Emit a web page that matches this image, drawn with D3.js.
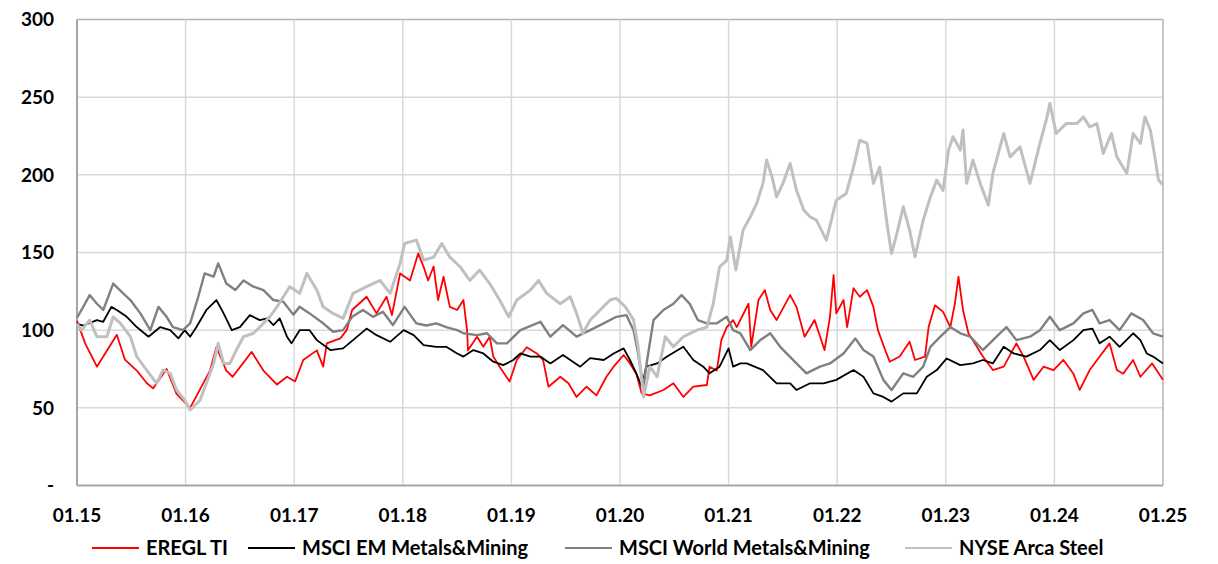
<!DOCTYPE html>
<html>
<head>
<meta charset="utf-8">
<script src="https://cdn.jsdelivr.net/npm/d3@7"></script>
<style>
  body { margin: 0; background: #fff; }
  text { font-family: Lato, "Open Sans", sans-serif; font-weight: 700; fill: #000; }
</style>
</head>
<body>
<div id="chart"></div>
<script>
// months since 01.2015, index value
const eregl = [[0,106],[0.9,91.5],[2.2,76.5],[4.4,97],[5.3,81],[6.6,74],[7.7,66],[8.4,62.5],[9.9,75],[11.0,59],[12.5,50],
  [14.7,74],[15.4,89],[16.5,74],[17.2,70],[19.3,86],[20.6,74],[22.1,65],[23.2,70],[24.1,67],[25.0,80.8],[26.5,87],[27.2,76.5],
  [27.6,91.5],[29.1,94.7],[29.8,100],[30.4,113],[32.0,121.5],[33.1,110.8],[34.2,121.5],[34.8,109.7],[35.7,136.5],[36.8,132],
  [37.7,149.4],[38.3,140.8],[38.8,132],[39.4,141],[39.9,119.4],[40.5,134.4],[41.2,115],[42.0,113],[42.7,119.4],[43.1,100],
  [43.2,87],[44.2,95.8],[44.9,89.3],[45.6,95.8],[46.0,83],[46.7,76.5],[47.8,67],[48.6,80.8],[49.7,89],[50.8,85],[51.5,80.8],
  [52.1,63.6],[53.4,70],[54.3,65.8],[55.2,57],[56.3,63.6],[57.4,58],[58.5,70],[59.3,76.5],[60.4,84],[61.1,78.6],[61.8,72],
  [62.4,59.3],[63.3,58],[64.8,61.5],[65.9,65.8],[67.0,57],[68.1,63.6],[69.6,64.7],[69.9,76.5],[70.7,74],[71.2,93.6],[71.8,102],
  [72.5,106.5],[72.9,102],[74.2,117],[74.5,89.3],[75.3,119.4],[76.0,125.8],[76.6,113],[77.3,106.5],[78.8,122.6],[79.5,115],
  [80.4,95.8],[81.5,106.5],[82.6,87.2],[83.2,108.6],[83.6,135.5],[83.9,110.8],[84.7,119.4],[85.1,102],[85.8,127],[86.5,121.5],
  [87.3,125.8],[88.0,115],[88.5,100],[89.3,87.2],[89.8,79.7],[90.9,83],[92.0,92.5],[92.6,80.8],[93.7,83],[94.1,102],[94.8,116],
  [95.7,111.8],[96.5,102],[97.0,117],[97.4,134.4],[97.9,113],[98.5,98],[99.2,91.5],[100.1,83],[101.2,74.3],[102.4,76.5],
  [103.8,91.5],[104.6,83],[105.7,68],[106.8,76.5],[107.9,74.3],[109.0,80.8],[110.1,72],[110.8,61.5],[111.9,74.3],[113.0,83],
  [114.1,91.5],[114.9,74.3],[115.6,72],[116.7,80.8],[117.5,70],[118.8,78.6],[120,68]];

const msciEm = [[0,104],[0.7,103],[2.2,106.5],[2.9,105.4],[3.8,115],[4.4,113],[5.5,108.6],[6.6,102],[7.9,95.8],[9.2,102],
  [10.3,100],[11.2,94.7],[11.9,100],[12.5,95.8],[13.2,102],[14.3,113],[15.4,119.4],[16.2,110.8],[17.1,100],[18.0,102],
  [19.1,109.7],[20.2,106.5],[21.0,107.6],[21.7,103.3],[22.4,107.6],[23.2,95.8],[23.7,91.5],[24.6,100],[25.7,100],[26.5,93.6],
  [28.0,87.2],[29.4,88.3],[30.5,93.6],[32.0,101],[33.1,96.8],[34.6,92.5],[36.1,100],[37.2,96.8],[38.3,90.4],[39.7,89.3],
  [40.8,89.3],[42.0,85],[42.7,83],[43.8,87.2],[44.9,85],[46.0,79.7],[47.1,77.5],[48.2,80.8],[49.0,85],[50.1,83],[51.2,83],
  [52.3,78.6],[53.7,84],[55.6,76.5],[56.7,82],[58.2,80.8],[59.3,85],[60.4,88.3],[61.1,80.8],[61.8,72.2],[62.4,63.6],[62.9,76.5],
  [64.1,78.6],[65.2,83],[67.0,89.3],[68.1,80.8],[69.2,76.5],[69.9,72.2],[71.0,76.5],[72.0,88.3],[72.5,76.5],[73.3,78.6],
  [74.0,78.6],[75.8,74.3],[77.3,65.8],[78.8,65.8],[79.5,61.5],[81.0,65.8],[82.5,65.8],[83.9,68],[85.8,74.3],[86.9,70],[88.0,59.3],
  [89.1,57],[90.0,54],[91.3,59.3],[92.8,59.3],[93.9,70],[95.0,74.3],[96.1,81.8],[97.6,77.5],[99.0,78.6],[100.1,80.8],[101.2,78.6],
  [102.4,89.3],[103.5,85],[104.9,83],[106.4,87.2],[107.5,93.6],[108.6,87.2],[110.1,93.6],[111.2,100],[112.2,101],[113.0,91.5],
  [114.1,95.8],[115.2,89.3],[116.7,98],[117.5,93.6],[118.2,85],[118.9,83],[120,78.6]];

const msciWorld = [[0,108],[0.5,113],[1.4,122.6],[2.2,117],[2.9,113],[4.0,130],[5.1,123.7],[5.9,119.4],[7.0,110.8],[8.1,100],
  [9.0,115],[9.9,108.6],[10.6,102],[11.7,100],[12.5,104.4],[13.4,121.5],[14.1,136.5],[15.1,134.4],[15.6,143],[16.5,130],
  [17.5,125.8],[18.4,132],[19.5,128],[20.6,125.8],[21.7,119.4],[22.8,118.3],[23.9,110],[24.6,115],[25.7,110.8],[27.2,104.4],
  [28.3,99],[29.4,100],[30.4,108.6],[31.6,113],[32.7,108.6],[33.8,111.8],[34.9,103.3],[36.2,115],[37.5,104.4],[38.6,103],
  [39.7,104.4],[40.8,102],[42.0,100],[42.7,98],[44.2,96.8],[45.3,98],[46.4,91.5],[47.5,91.5],[49.0,100],[51.2,105.4],[52.3,95.8],
  [53.7,103.3],[55.2,95.8],[56.7,100],[58.2,104.4],[59.6,108.6],[60.7,109.7],[61.5,100],[62.0,85],[62.4,70],[62.6,63.6],
  [63.0,80.8],[63.7,106.5],[64.8,113],[65.9,117],[66.8,122.6],[67.7,117],[68.6,106.5],[69.6,104.4],[70.7,104.4],[71.8,108.6],
  [72.5,100],[73.3,98],[74.4,87.2],[75.5,93.6],[76.6,98],[77.7,89.3],[79.5,78.6],[80.6,72.2],[82.1,76.5],[83.2,78.6],[84.7,85],
  [86.0,94.7],[86.9,87.2],[88.0,83],[89.1,68],[90.0,61.5],[91.3,72.2],[92.4,70],[93.5,76.5],[94.3,89.3],[95.4,95.8],[96.5,102],
  [97.6,98],[98.7,95.8],[100.1,87.2],[101.6,95.8],[102.7,102],[103.8,93.6],[105.3,95.8],[106.4,100],[107.5,108.6],[108.6,100],
  [110.1,104.4],[111.2,110.8],[112.2,113],[113.0,104.4],[114.1,106.5],[115.2,100],[116.5,110.8],[117.8,106.5],[118.9,98],[120,95.8]];

const nyseSteel = [[0,104],[0.5,100],[1.4,106.5],[2.2,95.8],[3.3,95.8],[4.0,108.6],[4.8,104.4],[5.9,95.8],[6.6,83],[7.7,74.3],
  [8.8,65.8],[9.5,74.3],[10.3,72.2],[11.0,61.5],[11.9,55],[12.5,48.6],[13.6,55],[14.3,65.8],[15.1,78.6],[15.6,91.5],[16.2,78.6],
  [16.9,78.6],[17.6,87.2],[18.4,95.8],[19.5,98],[20.6,104.4],[21.3,108.6],[22.1,115],[22.8,121.5],[23.5,128],[24.6,123.7],
  [25.4,136.5],[26.5,125.8],[27.2,115],[28.3,110.8],[29.4,107.6],[30.5,123.7],[32.0,128],[33.5,132],[34.6,123.7],[35.7,143],
  [36.2,155.8],[37.5,158],[38.3,145],[39.4,147],[40.3,155.8],[41.2,147],[42.3,141],[43.4,132],[44.5,138.7],[45.6,130],
  [46.7,119.4],[47.7,108.6],[48.6,119.4],[50.1,125.8],[51.0,132],[51.9,123.7],[53.4,117],[54.5,121.5],[55.2,110.8],[55.9,98],
  [56.7,106.5],[57.8,113],[58.9,119.4],[59.6,120.5],[60.6,115],[61.5,106.5],[62.0,89.3],[62.4,67.9],[62.6,57],[63.3,76.5],
  [64.1,70],[65.0,95.8],[65.9,89.3],[67.0,95.8],[68.5,100],[69.6,102],[70.3,117],[71.0,140.8],[71.8,145],[72.2,160],[72.8,138.7],
  [73.6,164.4],[74.4,173],[75.1,181.6],[75.8,194.5],[76.2,209.5],[76.8,198.7],[77.3,185.8],[78.0,194.5],[78.8,207.3],[79.5,190],
  [80.3,177.3],[81.0,173],[81.7,170.8],[82.8,158],[83.9,183.7],[85.0,188],[85.8,205],[86.5,222.3],[87.3,220.2],[88.0,194.5],
  [88.7,205],[89.5,168.7],[90.0,149.4],[90.6,162.3],[91.3,179.4],[92.0,164.4],[92.6,147.2],[93.5,170.8],[94.3,185.8],[95.0,196.6],
  [95.7,190],[96.3,215.9],[96.8,224.5],[97.6,215.9],[97.9,228.8],[98.3,194.5],[99.0,209.5],[99.8,194.5],[100.7,180.5],[101.2,201],
  [102.4,226.6],[103.1,211.6],[104.2,218],[105.3,194.5],[106.4,220.2],[107.1,235.2],[107.5,246],[108.2,226.6],[109.3,233],
  [110.5,233],[111.2,237.3],[111.9,230.9],[112.7,233],[113.4,213.8],[114.3,226.6],[114.9,211.6],[116.0,200.9],[116.7,226.6],
  [117.5,220.2],[118.0,237.3],[118.6,228.8],[119.1,211.6],[119.5,196.6],[120,193.4]];

const xTickLabels = ["01.15","01.16","01.17","01.18","01.19","01.20","01.21","01.22","01.23","01.24","01.25"];
const yTicks = [0, 50, 100, 150, 200, 250, 300];
const seriesNames = ["EREGL TI", "MSCI EM Metals&Mining", "MSCI World Metals&Mining", "NYSE Arca Steel"];
const seriesData = [eregl, msciEm, msciWorld, nyseSteel];
const seriesColors = ["#ff0000", "#000000", "#808080", "#c0c0c0"];
const seriesWidths = [1.8, 1.8, 2.4, 3];
const legendX = [92, 248, 565, 905];

const width = 1218, height = 564;
const margin = {top: 19.5, left: 77, right: 55, bottom: 78.5};

const svg = d3.select("#chart").append("svg")
    .attr("width", width)
    .attr("height", height);

const x = d3.scaleLinear().domain([0, 120]).range([margin.left, width - margin.right]);
const y = d3.scaleLinear().domain([0, 300]).range([height - margin.bottom, margin.top]);

// gridlines
const grid = svg.append("g");
grid.selectAll(".hgrid")
    .data(yTicks.filter(d => d > 0))
    .enter().append("line")
    .attr("x1", x(0)).attr("x2", x(120))
    .attr("y1", d => y(d)).attr("y2", d => y(d))
    .attr("stroke", d => d === 300 ? "#b4b4b4" : "#d9d9d9")
    .attr("stroke-width", 1.5);
grid.selectAll(".vgrid")
    .data(d3.range(1, 11))
    .enter().append("line")
    .attr("x1", d => x(d * 12)).attr("x2", d => x(d * 12))
    .attr("y1", y(0)).attr("y2", y(300))
    .attr("stroke", d => d === 10 ? "#b4b4b4" : "#d9d9d9")
    .attr("stroke-width", 1.5);

// axes lines
svg.append("line")
    .attr("x1", x(0)).attr("x2", x(0)).attr("y1", y(0)).attr("y2", y(300))
    .attr("stroke", "#a6a6a6").attr("stroke-width", 2);
svg.append("line")
    .attr("x1", x(0)).attr("x2", x(120)).attr("y1", y(0)).attr("y2", y(0))
    .attr("stroke", "#a6a6a6").attr("stroke-width", 2);

// y labels
svg.selectAll(".ylab")
    .data(yTicks)
    .enter().append("text")
    .attr("x", 54)
    .attr("y", d => y(d))
    .attr("dy", "0.36em")
    .attr("text-anchor", "end")
    .style("font-size", "19px")
    .text(d => d === 0 ? "-" : d);

// x labels
svg.selectAll(".xlab")
    .data(xTickLabels)
    .enter().append("text")
    .attr("x", (d, i) => x(i * 12))
    .attr("y", 522)
    .attr("text-anchor", "middle")
    .style("font-size", "19px")
    .text(d => d);

// lines
const line = d3.line()
    .x(d => x(d[0]))
    .y(d => y(d[1]));

svg.append("g").selectAll("path")
    .data(seriesData)
    .enter().append("path")
    .attr("d", line)
    .attr("fill", "none")
    .attr("stroke", (d, i) => seriesColors[i])
    .attr("stroke-width", (d, i) => seriesWidths[i])
    .attr("stroke-linejoin", "round");

// legend
const legend = svg.append("g");
seriesNames.forEach((name, i) => {
    const lx = legendX[i];
    legend.append("line")
        .attr("x1", lx).attr("x2", lx + 47)
        .attr("y1", 548).attr("y2", 548)
        .attr("stroke", seriesColors[i])
        .attr("stroke-width", 2.2);
    legend.append("text")
        .attr("x", lx + 54)
        .attr("y", 555)
        .style("font-size", "20px")
        .text(name);
});
</script>
</body>
</html>
